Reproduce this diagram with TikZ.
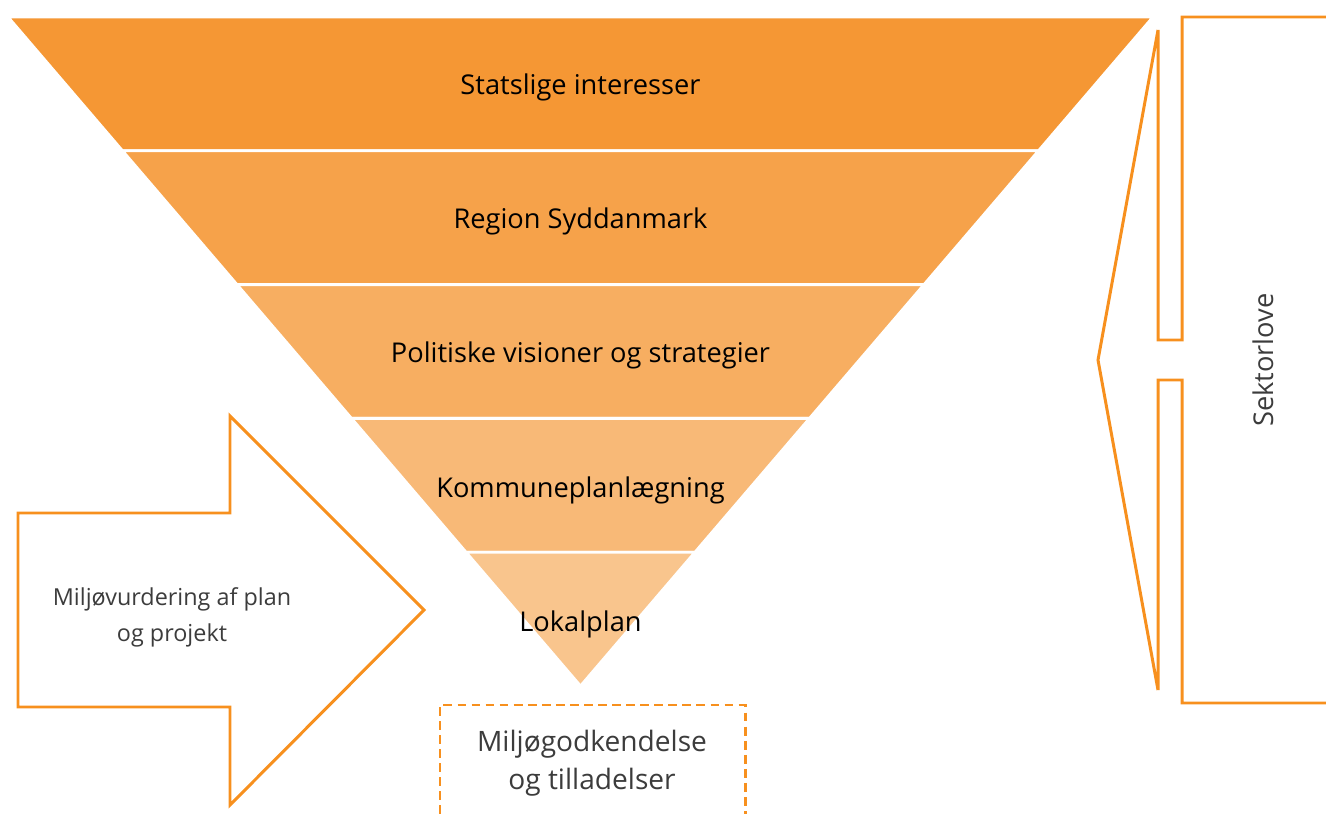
\documentclass[tikz,border=0pt]{standalone}
\usepackage{fontspec}
\setmainfont{Open Sans}
\usetikzlibrary{positioning}

\definecolor{funnelorange}{RGB}{245,151,52}
\definecolor{frameorange}{RGB}{247,144,30}
\definecolor{softtext}{RGB}{60,60,60}

\begin{document}
\begin{tikzpicture}[
    x=0.02cm, y=-0.02cm,
    band/.style={draw=white, line width=1.6pt},
    bandlabel/.style={font=\fontsize{15.5}{18}\selectfont, text=black},
    frame/.style={draw=frameorange, line width=1.7pt, line join=miter},
    dashframe/.style={draw=frameorange, line width=1.7pt, dash pattern=on 5pt off 3pt},
    lighttext/.style={text=softtext, align=center}
]

% ============================================================
% CANVAS (pixel units, y downwards)
% ============================================================
\useasboundingbox (0,0) rectangle (1326,814);

% ============================================================
% FUNNEL
% Top edge y=17 (x 8 .. 1153), apex (580.5,686)
% Band height 133.8, half width shrinks by 114.5 per band
% ============================================================
\fill[funnelorange, band] (8,17) -- (1153,17) -- (1038.5,150.8) -- (122.5,150.8) -- cycle;
\node[bandlabel] (stat) at (580.5,87) {Statslige interesser};

\fill[funnelorange!89, band] (122.5,150.8) -- (1038.5,150.8) -- (924,284.6) -- (237,284.6) -- cycle;
\node[bandlabel] (region) at (580.5,221) {Region Syddanmark};

\fill[funnelorange!78, band] (237,284.6) -- (924,284.6) -- (809.5,418.4) -- (351.5,418.4) -- cycle;
\node[bandlabel] (politik) at (580.5,355) {Politiske visioner og strategier};

\fill[funnelorange!67, band] (351.5,418.4) -- (809.5,418.4) -- (695,552.2) -- (466,552.2) -- cycle;
\node[bandlabel] (kommune) at (580.5,490) {Kommuneplanlægning};

\fill[funnelorange!56, band] (466,552.2) -- (695,552.2) -- (580.5,686) -- cycle;
\node[bandlabel] (lokal) at (580.5,624) {Lokalplan};

% ============================================================
% LEFT ARROW: environmental assessment
% ============================================================
\draw[frame] (18,513) -- (230,513) -- (230,416) -- (424,610) -- (230,805) -- (230,707) -- (18,707) -- cycle;
\node[lighttext, font=\fontsize{13.3}{20.4}\selectfont] (miljo) at (172,617) {Miljøvurdering af plan\\og projekt};

% ============================================================
% DASHED BOX below the apex (runs off the bottom edge)
% ============================================================
\draw[dashframe] (440,814) -- (440,705) -- (745,705) -- (745,814);
\node[lighttext, font=\fontsize{16}{21.5}\selectfont] (godk) at (592,763) {Miljøgodkendelse\\og tilladelser};

% ============================================================
% RIGHT BRACKET: sector laws pointing into the funnel
% ============================================================
\draw[frame] (1326,17) -- (1182,17) -- (1182,340) -- (1158,340) -- (1158,30) -- (1098,360)
    -- (1158,690) -- (1158,380) -- (1182,380) -- (1182,703) -- (1326,703);
\node[lighttext, rotate=90, font=\fontsize{15.5}{18}\selectfont] (sektor) at (1263,360) {Sektorlove};

\end{tikzpicture}
\end{document}
